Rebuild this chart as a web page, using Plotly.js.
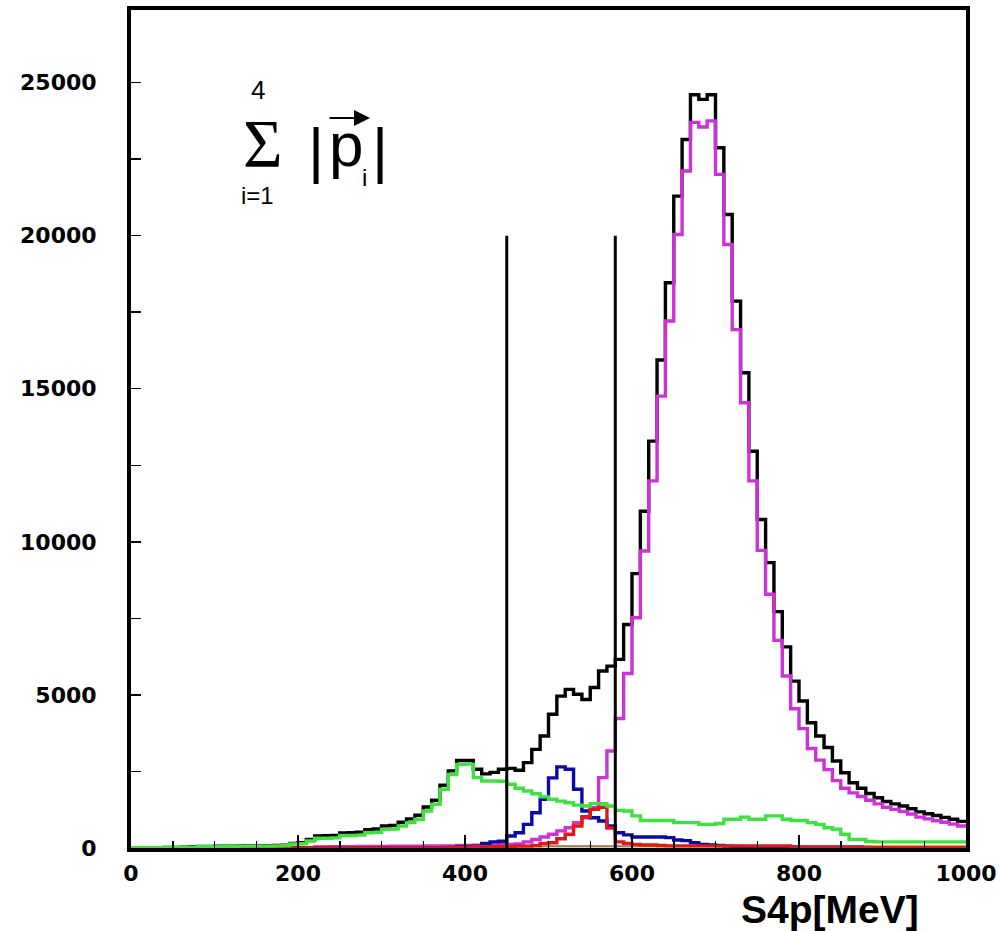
<!DOCTYPE html>
<html>
<head>
<meta charset="utf-8">
<script src="https://cdn.plot.ly/plotly-3.0.1.min.js"></script>
<style>
  html, body { margin: 0; padding: 0; background: #fff; }
  #chart { width: 1003px; height: 931px; }
</style>
</head>
<body>
<div id="chart"></div>
<script>
// Bin lower edges (MeV), 10 MeV bins from 0 to 1000
const binLow = [0,10,20,30,40,50,60,70,80,90,100,110,120,130,140,150,160,170,180,190,
  200,210,220,230,240,250,260,270,280,290,300,310,320,330,340,350,360,370,380,390,
  400,410,420,430,440,450,460,470,480,490,500,510,520,530,540,550,560,570,580,590,
  600,610,620,630,640,650,660,670,680,690,700,710,720,730,740,750,760,770,780,790,
  800,810,820,830,840,850,860,870,880,890,900,910,920,930,940,950,960,970,980,990];
const xMax = 1000;

// Total (black)
const totalCounts = [10,10,10,10,20,20,30,40,50,50,60,60,60,70,70,70,70,80,90,150,
  170,280,390,400,410,490,500,520,600,620,720,740,840,950,1070,1340,1560,2050,2520,2860,
  2860,2570,2420,2470,2570,2600,2540,2790,3220,3660,4370,4960,5180,5020,4850,5240,5780,5940,6160,7300,
  8960,11000,13290,15940,18460,21290,23140,24600,24450,24600,22870,20690,17860,15520,12960,10730,9320,7720,6570,5450,
  4800,4090,3660,3280,2840,2460,2130,1950,1780,1640,1520,1440,1370,1280,1180,1120,1060,1000,940,870];

// Magenta component
const magentaCounts = [0,0,0,0,0,0,0,0,0,0,0,0,0,0,0,0,0,0,0,0,
  0,0,30,30,40,40,40,50,50,50,50,60,60,60,60,70,70,70,70,80,
  80,90,90,100,110,120,130,200,280,360,450,560,660,830,990,1320,2300,3170,4230,5700,
  7520,9700,11990,14760,17210,20040,22110,23700,23550,23750,22000,19710,16930,14540,11990,9720,8290,6780,5620,4550,
  3900,3250,2870,2560,2200,1950,1800,1680,1560,1440,1330,1260,1190,1110,1010,950,890,840,780,720];

// Green component
const greenCounts = [10,10,10,10,20,20,30,30,40,40,50,50,50,60,60,60,60,70,80,130,
  140,230,320,320,330,410,410,420,500,510,610,620,720,830,940,1210,1430,1920,2400,2730,
  2740,2300,2190,2190,2180,2080,1950,1860,1770,1670,1590,1530,1480,1400,1370,1450,1450,1370,1230,1210,
  1050,900,900,900,900,830,830,830,770,770,800,940,940,1010,940,940,1050,1050,940,900,
  900,830,770,660,610,450,280,280,210,200,200,200,200,200,200,200,200,200,200,200];

// Blue component
const blueCounts = [0,0,0,0,0,0,0,0,0,0,0,0,0,0,0,0,0,0,0,0,
  0,0,0,0,0,0,0,0,0,0,0,0,0,0,0,0,0,0,20,40,
  50,60,150,200,220,390,500,770,1150,1590,2290,2650,2570,1920,1210,990,880,720,500,430,
  360,360,360,360,340,260,240,170,120,100,80,60,50,40,30,30,30,30,20,20,
  10,10,10,10,10,10,10,10,10,10,10,10,10,10,10,10,10,10,10,10];

// Red component
const redCounts = [0,0,0,0,0,0,0,0,0,0,0,0,0,0,0,0,0,0,0,0,
  0,0,0,0,0,0,0,0,0,0,0,0,0,0,0,0,0,0,20,30,
  30,40,40,40,50,50,60,60,80,150,170,300,450,720,1020,1260,1330,650,200,150,
  120,100,100,80,70,70,70,70,70,70,70,70,70,70,70,70,70,70,70,20,
  20,20,20,20,20,20,20,20,20,20,20,20,20,20,20,20,20,20,20,20];

// Dark purple component (small, along the axis)
const purpleCounts = [0,0,0,0,0,0,0,0,0,0,0,0,0,0,0,0,0,0,0,0,
  0,0,30,30,30,30,30,30,30,30,30,30,30,30,30,30,30,30,30,30,
  30,30,30,30,30,30,30,30,30,30,30,30,30,30,30,30,30,30,30,30,
  30,30,30,30,30,30,30,30,30,30,30,30,30,30,30,30,30,30,30,40,
  40,40,40,40,40,40,40,40,40,30,30,30,30,30,30,30,30,30,30,30];

// Yellow component (small, high-energy end)
const yellowCounts = [0,0,0,0,0,0,0,0,0,0,0,0,0,0,0,0,0,0,0,0,
  0,0,0,0,0,0,0,0,0,0,0,0,0,0,0,0,0,0,0,0,
  0,0,0,0,0,0,0,0,0,0,0,0,0,0,0,0,0,0,0,0,
  0,0,0,0,0,0,0,0,0,0,0,0,0,0,0,0,0,0,0,0,
  0,0,0,0,0,0,0,0,40,50,50,50,50,50,50,50,50,50,50,50];

// Selection cut lines
const cutPositions = [450, 580];
const cutTop = 20000;

// Axis ticks
const xTickVals = [0, 200, 400, 600, 800, 1000];
const yTickVals = [0, 5000, 10000, 15000, 20000, 25000];

function stepTrace(counts, color, width) {
  const xs = binLow.concat([xMax]);
  const ys = counts.concat([counts[counts.length - 1]]);
  return {
    type: 'scatter', mode: 'lines',
    x: xs, y: ys,
    line: { shape: 'hv', color: color, width: width },
    hoverinfo: 'skip', showlegend: false
  };
}

const traces = [
  stepTrace(totalCounts, '#000000', 3.4),
  stepTrace(purpleCounts, '#5e1470', 3),
  stepTrace(yellowCounts, '#e6dc6a', 3),
  stepTrace(magentaCounts, '#cc33d6', 3.4),
  stepTrace(blueCounts, '#0a0aa5', 3.4),
  stepTrace(redCounts, '#e01818', 3.4),
  stepTrace(greenCounts, '#3ee23e', 3.4)
];

cutPositions.forEach(function (c) {
  traces.push({
    type: 'scatter', mode: 'lines',
    x: [c, c], y: [0, cutTop],
    line: { color: '#000000', width: 3 },
    hoverinfo: 'skip', showlegend: false
  });
});

const tickFont = { family: 'DejaVu Sans', size: 22, color: '#000', weight: 'bold' };
const mathFont = { family: 'Liberation Sans, Arial, sans-serif', color: '#000' };

function ann(text, x, y, size, extra) {
  return Object.assign({
    text: text, x: x, y: y, xref: 'paper', yref: 'paper',
    xanchor: 'center', yanchor: 'middle', showarrow: false,
    font: Object.assign({}, mathFont, { size: size })
  }, extra || {});
}

const layout = {
  width: 1003, height: 931,
  margin: { l: 131, r: 37, t: 10, b: 83 },
  paper_bgcolor: '#ffffff', plot_bgcolor: '#ffffff',
  showlegend: false,
  xaxis: {
    range: [0, 1000], showgrid: false, zeroline: false,
    showline: true, linecolor: '#000', linewidth: 4, mirror: true,
    tickvals: xTickVals, ticktext: xTickVals.map(String),
    ticks: 'inside', ticklen: 13, tickwidth: 2, tickcolor: '#000',
    minor: { dtick: 50, ticks: 'inside', ticklen: 7, tickwidth: 1.5, tickcolor: '#000' },
    tickfont: { family: 'DejaVu Sans', size: 22, color: '#000', weight: 'bold' },
    ticklabelstandoff: 3
  },
  yaxis: {
    range: [0, 27370], showgrid: false, zeroline: false,
    showline: true, linecolor: '#000', linewidth: 4, mirror: true,
    tickvals: yTickVals, ticktext: yTickVals.map(String),
    ticks: 'inside', ticklen: 10, tickwidth: 1.5, tickcolor: '#000',
    minor: { dtick: 2500, ticks: 'inside', ticklen: 10, tickwidth: 1.5, tickcolor: '#000' },
    tickfont: tickFont, ticklabelstandoff: 26
  },
  annotations: [
    ann('4', 0.152, 0.9045, 26, { borderpad: 0 }),
    ann('\u03A3', 0.158, 0.8413, 68, {
      borderpad: 0,
      font: { family: 'Liberation Serif, Times New Roman, serif', size: 68, color: '#000' } }),
    ann('i=1', 0.152, 0.779, 24, { borderpad: 0 }),
    ann('|', 0.2216, 0.833, 62),
    ann('p', 0.2575, 0.840, 62),
    ann('|', 0.2985, 0.833, 62),
    ann('i', 0.2795, 0.800, 24),
    { text: '', xref: 'paper', yref: 'paper', x: 0.2862, y: 0.871,
      showarrow: true, ax: -42, ay: 0, axref: 'pixel', ayref: 'pixel',
      arrowhead: 2, arrowsize: 1.6, arrowwidth: 2, arrowcolor: '#000' },
    { text: 'S4p[MeV]', xref: 'paper', yref: 'paper', x: 0.837, y: -0.0728,
      xanchor: 'center', yanchor: 'middle', showarrow: false, borderpad: 0,
      font: { family: 'Liberation Sans, Arial, sans-serif', size: 39, color: '#000', weight: 'bold' } }
  ]
};

Plotly.newPlot('chart', traces, layout, { staticPlot: true, displayModeBar: false });
</script>
</body>
</html>
